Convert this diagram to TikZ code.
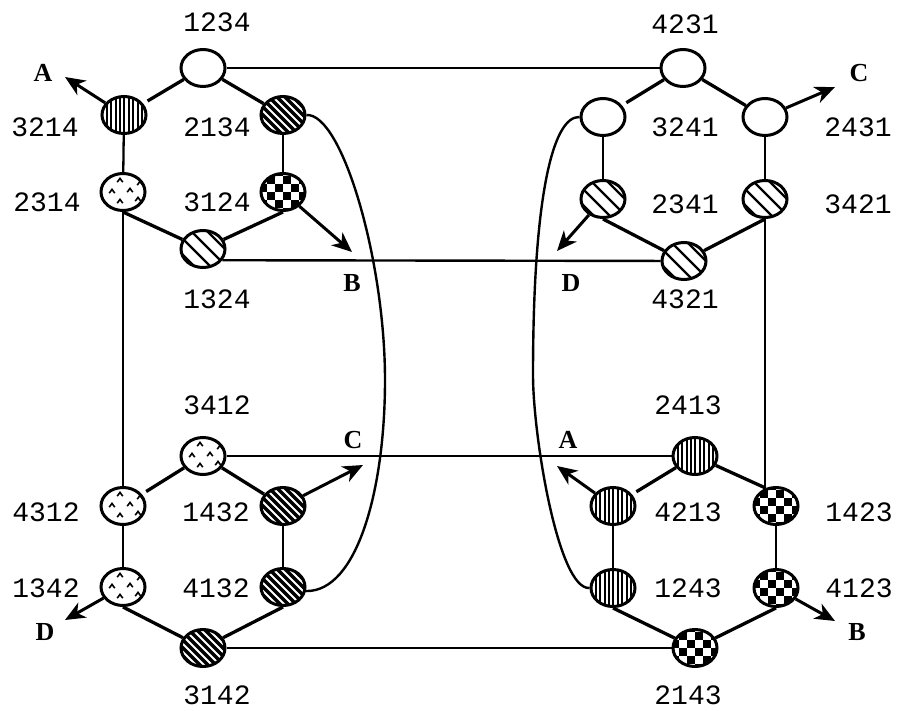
\documentclass[tikz,border=0pt]{standalone}
\usepackage{fontspec}
\setmonofont{Liberation Mono}
\newfontfamily\lblfont{Liberation Serif}
\usetikzlibrary{shapes.geometric,arrows.meta}
\begin{document}
\begin{tikzpicture}[x=1pt,y=-1pt,
  state/.style={ellipse, draw, line width=3pt, inner sep=0pt,
    minimum width=44pt, minimum height=37pt, fill=white},
  blank/.style={state},
  vstripe/.style={state, path picture={
    \begin{scope}[shift={(path picture bounding box.center)}]
      \foreach \i in {-26,-21.6,...,26}
        \draw[black,line width=2.1pt] (\i,-25) -- (\i,25);
    \end{scope}}},
  darkstripe/.style={state, fill=black, path picture={
    \begin{scope}[shift={(path picture bounding box.center)}]
      \foreach \i in {-48,-40,...,48}
        \draw[white,line width=1.8pt] (\i-30,-30) -- (\i+30,30);
    \end{scope}}},
  lightstripe/.style={state, path picture={
    \begin{scope}[shift={(path picture bounding box.center)}]
      \foreach \i in {-26,-10,6,22}
        \draw[black,line width=2.4pt] (\i-30,-30) -- (\i+30,30);
    \end{scope}}},
  checker/.style={state, path picture={
    \begin{scope}[shift={(path picture bounding box.center)}]
      \foreach \a in {-36,-20,...,36}
        \foreach \b in {-36,-20,...,36} {
          \fill[black] (\a-4,\b-4) rectangle ++(8,8);
          \fill[black] (\a+4,\b+4) rectangle ++(8,8);
        }
    \end{scope}}},
  stipple/.style={state, path picture={
    \begin{scope}[shift={(path picture bounding box.center)}]
      \foreach \p/\q in {-3/-12,-11/-1,7/-2,-3/9,15/7,17/-9}
        \draw[black,line width=1.6pt] (\p-2.8,\q+2.2) -- (\p,\q-1.6) -- (\p+2.8,\q+2.2);
    \end{scope}}},
  num/.style={font=\ttfamily\fontsize{28}{28}\selectfont, inner sep=0pt},
  tag/.style={font=\lblfont\bfseries\fontsize{26}{26}\selectfont, inner sep=0pt},
  hexedge/.style={line width=3.3pt},
  rung/.style={line width=2.3pt},
  link/.style={line width=2.4pt},
  arr/.style={line width=3pt, -{Stealth[length=20pt,width=17pt,inset=6pt]}}
]
\useasboundingbox (0,0) rectangle (899,711);

% ---- top-left hexagon ----
\node[blank]       (n1234) at (203,68)  {};
\node[vstripe]     (n3214) at (124,115) {};
\node[darkstripe]  (n2134) at (283,115) {};
\node[stipple]     (n2314) at (123,192) {};
\node[checker]     (n3124) at (283,192) {};
\node[lightstripe] (n1324) at (203,249) {};

% ---- top-right hexagon ----
\node[blank]       (n4231) at (683,68)  {};
\node[blank]       (n3241) at (603,117) {};
\node[blank]       (n2431) at (765,117) {};
\node[lightstripe] (n2341) at (603,199) {};
\node[lightstripe] (n3421) at (765,199) {};
\node[lightstripe] (n4321) at (684,261) {};

% ---- bottom-left hexagon ----
\node[stipple]     (n3412) at (203,456) {};
\node[stipple]     (n4312) at (123,506) {};
\node[darkstripe]  (n1432) at (283,506) {};
\node[stipple]     (n1342) at (123,587) {};
\node[darkstripe]  (n4132) at (283,587) {};
\node[darkstripe]  (n3142) at (203,648) {};

% ---- bottom-right hexagon ----
\node[vstripe]     (n2413) at (695,456) {};
\node[vstripe]     (n4213) at (613,506) {};
\node[checker]     (n1423) at (776,506) {};
\node[vstripe]     (n1243) at (613,588) {};
\node[checker]     (n4123) at (776,588) {};
\node[checker]     (n2143) at (695,648) {};

% ---- state labels ----
\node[num] (t1234) at (217,22)  {1234};
\node[num] (t3214) at (45,127)  {3214};
\node[num] (t2134) at (217,127) {2134};
\node[num] (t2314) at (47,202)  {2314};
\node[num] (t3124) at (217,202) {3124};
\node[num] (t1324) at (217,299) {1324};

\node[num] (t4231) at (685,24)  {4231};
\node[num] (t3241) at (685,127) {3241};
\node[num] (t2431) at (858,127) {2431};
\node[num] (t2341) at (685,204) {2341};
\node[num] (t3421) at (858,204) {3421};
\node[num] (t4321) at (685,299) {4321};

\node[num] (t3412) at (217,405) {3412};
\node[num] (t4312) at (46,512)  {4312};
\node[num] (t1432) at (216,512) {1432};
\node[num] (t1342) at (46,588)  {1342};
\node[num] (t4132) at (216,588) {4132};
\node[num] (t3142) at (217,695) {3142};

\node[num] (t2413) at (688,405) {2413};
\node[num] (t4213) at (688,512) {4213};
\node[num] (t1423) at (859,512) {1423};
\node[num] (t1243) at (688,588) {1243};
\node[num] (t4123) at (859,588) {4123};
\node[num] (t2143) at (688,695) {2143};

% ---- hexagon edges ----
\draw[hexedge, shorten >=5pt] (n1234) -- (n3214);
\draw[hexedge] (n1234) -- (n2134);
\draw[rung] (n3214) -- (n2314);
\draw[rung] (n2134) -- (n3124);
\draw[hexedge] (n2314.south) -- (n1324);
\draw[hexedge] (n3124.south) -- (n1324);

\draw[hexedge, shorten >=5pt] (n4231) -- (n3241);
\draw[hexedge] (n4231) -- (n2431);
\draw[rung] (n3241) -- (n2341);
\draw[rung] (n2431) -- (n3421);
\draw[hexedge] (n2341.south) -- (n4321);
\draw[hexedge] (n3421.south) -- (n4321);

\draw[hexedge, shorten >=5pt] (n3412) -- (n4312);
\draw[hexedge] (n3412) -- (n1432);
\draw[rung] (n4312) -- (n1342);
\draw[rung] (n1432) -- (n4132);
\draw[hexedge] (n1342.south) -- (n3142);
\draw[hexedge] (n4132.south) -- (n3142);

\draw[hexedge, shorten >=5pt] (n2413) -- (n4213);
\draw[hexedge] (n2413) -- (n1423.120);
\draw[rung] (n4213) -- (n1243);
\draw[rung] (n1423) -- (n4123);
\draw[hexedge] (n1243.south) -- (n2143);
\draw[hexedge] (n4123.south) -- (n2143);

% ---- links between hexagons ----
\draw[link] (n1234) -- (n4231);
\draw[link] (n1324.-30) -- (n4321);
\draw[link] (n3412) -- (n2413);
\draw[link] (n3142) -- (n2143);
\draw[link] (n2314) -- (n4312);
\draw[link] (n3421.south) -- (n3421.south |- n1423.north);
\draw[link] (n2134.east) .. controls (342,113) and (385,260) .. (385,380)
            .. controls (385,490) and (357,592) .. (n4132.-10);
\draw[link] (n3241.west) .. controls (553,116) and (533,195) .. (533,375)
            .. controls (533,435) and (558,590) .. (n1243.west);

% ---- exits ----
\coordinate (eA1) at (65,77);
\coordinate (eB1) at (352,252);
\coordinate (eC1) at (835,87);
\coordinate (eD1) at (557,251);
\coordinate (eC2) at (363,465);
\coordinate (eD2) at (65,620);
\coordinate (eA2) at (557,466);
\coordinate (eB2) at (835,621);
\draw[arr] (n3214) -- (eA1);
\draw[arr] (n3124) -- (eB1);
\draw[arr] (n2431) -- (eC1);
\draw[arr] (n2341) -- (eD1);
\draw[arr] (n1432) -- (eC2);
\draw[arr] (n1342) -- (eD2);
\draw[arr] (n4213) -- (eA2);
\draw[arr] (n4123) -- (eB2);

\node[tag] (lA1) at (43,73)  {A};
\node[tag] (lB1) at (352,283) {B};
\node[tag] (lC1) at (859,73) {C};
\node[tag] (lD1) at (571,283) {D};
\node[tag] (lC2) at (353,440) {C};
\node[tag] (lD2) at (45,632) {D};
\node[tag] (lA2) at (568,440) {A};
\node[tag] (lB2) at (857,632) {B};
\end{tikzpicture}
\end{document}
